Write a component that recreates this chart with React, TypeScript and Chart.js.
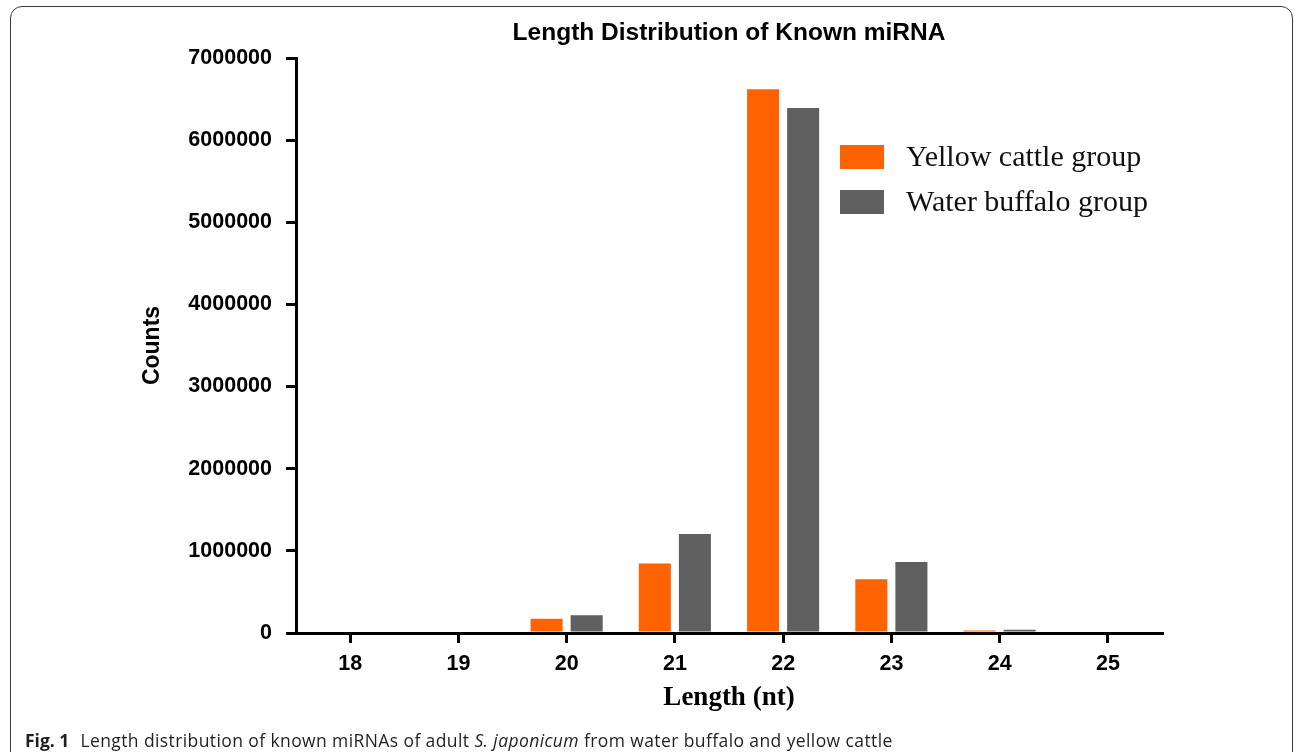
import React, { useEffect, useRef } from "react";
import { Chart, registerables } from "chart.js";

Chart.register(...registerables);

const categories = ["18", "19", "20", "21", "22", "23", "24", "25"];
const yellowCattle = [0, 0, 175000, 845000, 6620000, 654000, 30000, 0];
const waterBuffalo = [0, 0, 215000, 1206000, 6390000, 865000, 40000, 0];
const seriesNames = ["Yellow cattle group", "Water buffalo group"];
const seriesColors = ["#ff6200", "#606060"];
const yTicks = [0, 1000000, 2000000, 3000000, 4000000, 5000000, 6000000, 7000000];

const legendPlugin = {
  id: "customLegend",
  afterDraw(chart: any) {
    const ctx = chart.ctx;
    ctx.save();
    chart.data.datasets.forEach((ds: any, i: number) => {
      const y = 145 + i * 45;
      ctx.fillStyle = ds.backgroundColor;
      ctx.fillRect(840, y, 44, 24);
      ctx.fillStyle = "#111";
      ctx.font = '30px "Liberation Serif"';
      ctx.textBaseline = "middle";
      ctx.textAlign = "left";
      ctx.fillText(ds.label, 906, y + 13);
    });
    ctx.restore();
  },
};

export default function App() {
  const ref = useRef<HTMLCanvasElement>(null);
  useEffect(() => {
    if (!ref.current) return;
    const tickFont = { family: '"Liberation Sans"', size: 21.5, weight: "bold" as const };
    const chart = new Chart(ref.current, {
      type: "bar",
      data: {
        labels: categories,
        datasets: [
          { label: seriesNames[0], data: yellowCattle, backgroundColor: seriesColors[0] },
          { label: seriesNames[1], data: waterBuffalo, backgroundColor: seriesColors[1] },
        ],
      },
      options: {
        responsive: false,
        animation: false,
        devicePixelRatio: 1,
        layout: { padding: { left: 130, right: 133, top: 18.8, bottom: 38 } },
        datasets: { bar: { categoryPercentage: 0.74, barPercentage: 0.8 } },
        plugins: {
          legend: { display: false },
          tooltip: { enabled: false },
          title: {
            display: true,
            text: "Length Distribution of Known miRNA",
            fullSize: false,
            color: "#000",
            font: { family: '"Liberation Sans"', size: 24.5, weight: "bold" },
            padding: { top: 0, bottom: 9.8 },
          },
        },
        scales: {
          x: {
            afterFit: (s: any) => { s.height = 81; },
            grid: {
              display: true,
              drawOnChartArea: false,
              offset: false,
              tickLength: 10,
              lineWidth: 3,
              color: "#000",
              tickColor: "#000",
            },
            border: { display: true, color: "#000", width: 3 },
            ticks: { color: "#000", font: tickFont, padding: 8, maxRotation: 0 },
            title: {
              display: true,
              text: "Length (nt)",
              color: "#000",
              font: { family: '"Liberation Serif"', size: 27, weight: "bold" },
              padding: { top: 0, bottom: 0 },
            },
          },
          y: {
            min: 0,
            max: 7000000,
            afterFit: (s: any) => { s.width = 166; },
            afterBuildTicks: (s: any) => { s.ticks = yTicks.map((v) => ({ value: v })); },
            grid: {
              display: true,
              drawOnChartArea: false,
              tickLength: 10,
              lineWidth: 3,
              color: "#000",
              tickColor: "#000",
            },
            border: { display: true, color: "#000", width: 3 },
            ticks: {
              color: "#000",
              font: tickFont,
              padding: 14,
              callback: (v: any) => String(v),
            },
            title: {
              display: true,
              text: "Counts",
              color: "#000",
              font: { family: '"Liberation Sans"', size: 23, weight: "bold" },
              padding: { top: 9.2, bottom: 0 },
            },
          },
        },
      },
      plugins: [legendPlugin],
    });
    return () => chart.destroy();
  }, []);

  return (
    <div style={{ position: "fixed", left: 0, top: 0, width: 1295, height: 752, overflow: "hidden", background: "#fff" }}>
      <div
        style={{
          position: "absolute",
          left: 10,
          top: 6,
          width: 1283,
          height: 820,
          border: "1.5px solid #3a3a3a",
          borderRadius: 12,
          boxSizing: "border-box",
        }}
      />
      <canvas ref={ref} width={1295} height={752} style={{ position: "absolute", left: 0, top: 0 }} />
      <div
        style={{
          position: "absolute",
          left: 25,
          top: 732,
          fontFamily: '"Open Sans"',
          fontSize: 17.5,
          letterSpacing: 0.4,
          lineHeight: "17.5px",
          color: "#231f20",
          whiteSpace: "nowrap",
        }}
      >
        <b style={{ letterSpacing: 0 }}>Fig. 1</b>
        <span style={{ marginLeft: 11 }}>Length distribution of known miRNAs of adult </span>
        <i>S. japonicum</i>
        <span> from water buffalo and yellow cattle</span>
      </div>
    </div>
  );
}
